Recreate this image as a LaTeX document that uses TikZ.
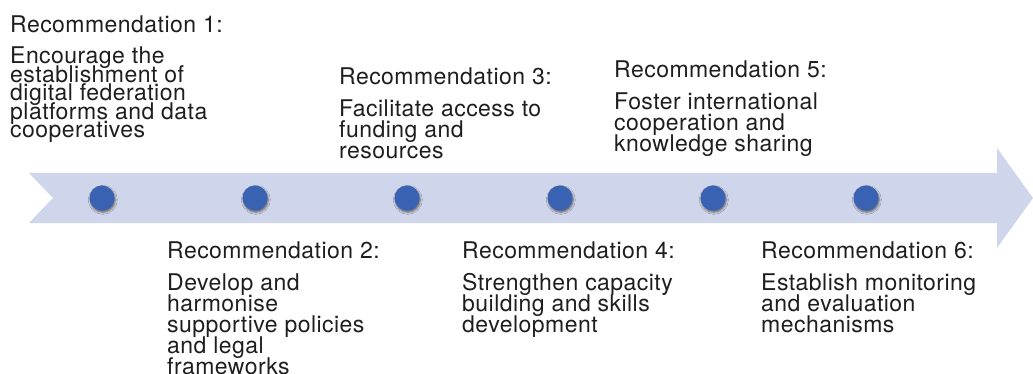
\documentclass[tikz,border=0pt]{standalone}
\usepackage{fontspec}
\setmainfont{TeX Gyre Heros}[LetterSpace=2]
\usetikzlibrary{shadows.blur}
\definecolor{bandcol}{RGB}{207,213,234}
\definecolor{dotcol}{RGB}{58,98,178}
\definecolor{txtcol}{RGB}{30,30,30}
\newcommand\blk[2][21pt]{\vtop{\baselineskip=#1\lineskiplimit=-\maxdimen #2}}
\newcommand\rline[1]{\hbox{#1}}
\tikzset{
  txt/.style={anchor=base west, inner sep=0pt, text=txtcol, font=\fontsize{23}{21}\selectfont},
  dot/.style={circle, fill=dotcol, minimum size=25pt, inner sep=0pt,
    blur shadow={shadow xshift=0.8pt, shadow yshift=-1.8pt, shadow blur radius=2pt, shadow opacity=55}}
}
\begin{document}
\begin{tikzpicture}[x=1pt,y=-1pt]
\useasboundingbox (0,0) rectangle (1033,374);
% band arrow
\fill[bandcol] (29,173) -- (997,173) -- (997,148) -- (1033,198) -- (997,248) -- (997,223) -- (29,223) -- (53,198) -- cycle;
% dots
\foreach \i/\x in {1/102,2/255,3/407,4/560,5/713,6/866}{
  \node[dot] (d\i) at (\x,198) {};
}
% top row
\node[txt] (t1) at (10,33) {Recommendation 1:};
\node[txt] (b1) at (10,63.5) {\blk[18.6pt]{\rline{Encourage the}\rline{establishment of}\rline{digital federation}\rline{platforms and data}\rline{cooperatives}}};
\node[txt] (t3) at (339,85) {Recommendation 3:};
\node[txt] (b3) at (339,116.5) {\blk{\rline{Facilitate access to}\rline{funding and}\rline{resources}}};
\node[txt] (t5) at (614,78) {Recommendation 5:};
\node[txt] (b5) at (614,109.5) {\blk{\rline{Foster international}\rline{cooperation and}\rline{knowledge sharing}}};
% bottom row
\node[txt] (t2) at (167,258) {Recommendation 2:};
\node[txt] (b2) at (167,290) {\blk{\rline{Develop and}\rline{harmonise}\rline{supportive policies}\rline{and legal}\rline{frameworks}}};
\node[txt] (t4) at (462,258) {Recommendation 4:};
\node[txt] (b4) at (462,290) {\blk{\rline{Strengthen capacity}\rline{building and skills}\rline{development}}};
\node[txt] (t6) at (761,258) {Recommendation 6:};
\node[txt] (b6) at (761,290) {\blk{\rline{Establish monitoring}\rline{and evaluation}\rline{mechanisms}}};
\end{tikzpicture}
\end{document}
